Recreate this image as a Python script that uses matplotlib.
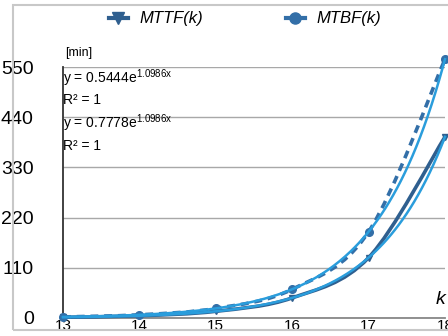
import numpy as np
import matplotlib
matplotlib.use("Agg")
import matplotlib.pyplot as plt
from matplotlib.lines import Line2D
from matplotlib.patches import Rectangle, PathPatch
from matplotlib.path import Path

plt.rcParams['font.family'] = ['Liberation Sans Narrow', 'Liberation Sans', 'DejaVu Sans']
plt.rcParams['mathtext.fontset'] = 'custom'
plt.rcParams['mathtext.rm'] = 'Liberation Sans'

k = [13, 14, 15, 16, 17, 18]
mttf = [1.63, 4.9, 14.7, 44.1, 132.3, 396.9]
mtbf = [2.33, 7.0, 21.0, 63.0, 189.0, 567.0]
yticks = [0, 110, 220, 330, 440, 550]
eq_mttf = "y = 0.5444e$^{\\mathregular{1.0986x}}$"
eq_mtbf = "y = 0.7778e$^{\\mathregular{1.0986x}}$"
r2_text = "R² = 1"
labels = ["MTTF(k)", "MTBF(k)"]

dark = "#2f5f8f"
dark2 = "#336fa8"
light = "#2a9ddc"


def smooth_path(xv, yv):
    """Excel-style smoothed line through the points (cubic Bezier)."""
    p = np.column_stack([xv, yv]).astype(float)
    n = len(p)
    verts = [p[0]]
    codes = [Path.MOVETO]
    for i in range(n - 1):
        p0 = p[i - 1] if i > 0 else p[i]
        p3 = p[i + 2] if i + 2 < n else p[i + 1]
        c1 = p[i] + (p[i + 1] - p0) / 6.0
        c2 = p[i + 1] - (p3 - p[i]) / 6.0
        verts += [c1, c2, p[i + 1]]
        codes += [Path.CURVE4] * 3
    return Path(verts, codes)


W, H = 448, 336
fig = plt.figure(figsize=(W / 100, H / 100), dpi=100)
fig.patches.append(Rectangle((13 / W, 1 - 330 / H), 1.2, (330 - 5) / H,
                             transform=fig.transFigure, fill=False,
                             edgecolor="#c8c8c8", lw=1.5))
ax = fig.add_axes([63 / W, 1 - 318 / H, (445 - 63) / W, (318 - 67) / H])

ax.set_xlim(13, 18)
ax.set_ylim(0, 550)
ax.set_yticks(yticks)
ax.set_xticks(k)
ax.grid(axis='y', color="#a8a8a8", lw=1)
ax.set_axisbelow(True)
for s in ['top', 'right']:
    ax.spines[s].set_visible(False)
ax.spines['left'].set_color("#333333")
ax.spines['left'].set_linewidth(1.3)
ax.spines['bottom'].set_color("#888888")
ax.spines['bottom'].set_linewidth(1.3)
ax.tick_params(axis='y', length=0, pad=21, labelsize=14)
ax.tick_params(axis='x', length=0, pad=1, labelsize=11)

ax.add_patch(PathPatch(smooth_path(k, mttf), facecolor='none', edgecolor=dark,
                       lw=2.6, clip_on=False, zorder=3))
ax.add_patch(PathPatch(smooth_path(k, mtbf), facecolor='none', edgecolor=dark2,
                       lw=2.6, ls=(0, (2.2, 1.6)), clip_on=False, zorder=3))
ax.plot(k, mttf, ls='none', color=dark, marker='v', ms=4, clip_on=False, zorder=3)
ax.plot(k, mtbf, ls='none', color=dark2, marker='o', ms=5.5, clip_on=False, zorder=3)

idx = np.arange(1, len(k) + 1)
xs = np.linspace(1, len(k), 200)
kk = np.linspace(k[0], k[-1], 200)
for series in (mttf, mtbf):
    b, a = np.polyfit(idx, np.log(series), 1)
    ax.plot(kk, np.exp(a) * np.exp(b * xs), color=light, lw=1.8,
            clip_on=False, zorder=4)

fig.text(65 / W, 1 - 53 / H, "[min]", fontsize=9, va='center', ha='left')
fig.text(63 / W, 1 - 78 / H, eq_mttf, fontsize=10, va='center', ha='left')
fig.text(63 / W, 1 - 100 / H, r2_text, fontsize=10, va='center', ha='left')
fig.text(63 / W, 1 - 123 / H, eq_mtbf, fontsize=10, va='center', ha='left')
fig.text(63 / W, 1 - 146 / H, r2_text, fontsize=10, va='center', ha='left')
fig.text(441 / W, 1 - 300 / H, "k", fontsize=14, style='italic',
         va='center', ha='center')

handles = [Line2D([], [], color=dark, lw=3, marker='v', ms=8),
           Line2D([], [], color=dark2, lw=3, marker='o', ms=8)]
fig.legend(handles, labels, loc='center', bbox_to_anchor=(245 / W, 1 - 19 / H),
           ncol=2, frameon=False, handlelength=1.1, handletextpad=0.7,
           columnspacing=5.0, prop={'style': 'italic', 'size': 12})

fig.savefig("out.png", dpi=100)
